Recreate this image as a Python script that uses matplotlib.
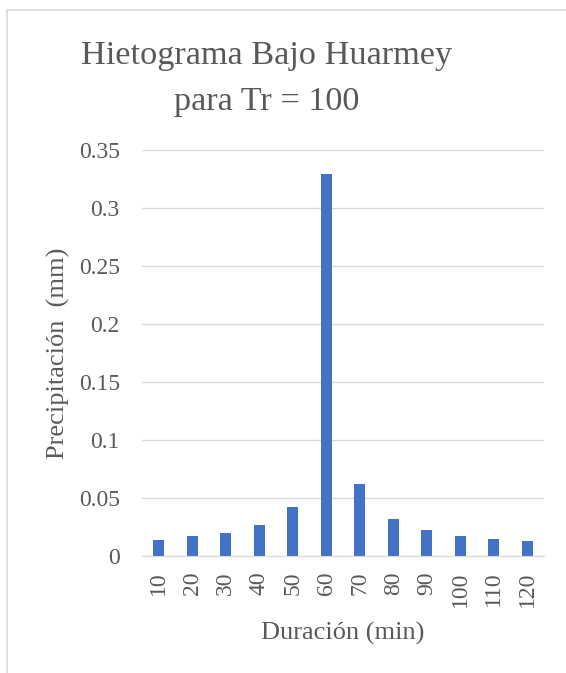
import matplotlib.pyplot as plt
from matplotlib.patches import Rectangle

# duration (min) and rainfall per block (mm)
duracion = [10, 20, 30, 40, 50, 60, 70, 80, 90, 100, 110, 120]
precipitacion = [0.0138, 0.0170, 0.0198, 0.0270, 0.0420, 0.329, 0.0618,
                 0.0319, 0.0224, 0.0175, 0.0146, 0.0127]
yticks = [0, 0.05, 0.1, 0.15, 0.2, 0.25, 0.3, 0.35]
ytick_labels = ['0', '0.05', '0.1', '0.15', '0.2', '0.25', '0.3', '0.35']

plt.rcParams['font.family'] = ['Liberation Serif', 'DejaVu Serif']
GRAY = '#595959'
GRID = '#d9d9d9'

fig = plt.figure(figsize=(5.66, 6.73), dpi=100)

# outer chart frame (runs off the right and bottom edges)
fig.patches.append(Rectangle((7 / 566, -0.1), 1.2, 1 - 10 / 673 + 0.1,
                             transform=fig.transFigure, fill=False,
                             edgecolor=GRID, linewidth=1.2))

ax = fig.add_axes([142 / 566, 1 - 556 / 673, 402 / 566, 406 / 673])
pos = list(range(len(duracion)))
ax.bar(pos, precipitacion, width=0.33, color='#4472C4', zorder=3)

ax.set_xlim(-0.5, len(duracion) - 0.5)
ax.set_ylim(0, 0.35)
ax.set_yticks(yticks)
ax.set_yticklabels(ytick_labels)
ax.set_xticks(pos)
ax.set_xticklabels([str(d) for d in duracion], rotation=90)
ax.tick_params(axis='both', length=0, labelsize=17, labelcolor=GRAY)
ax.tick_params(axis='y', pad=16)
ax.tick_params(axis='x', pad=11)

ax.grid(axis='y', color=GRID, linewidth=1, zorder=0)
for s in ['top', 'right', 'left']:
    ax.spines[s].set_visible(False)
ax.spines['bottom'].set_color(GRID)
ax.spines['bottom'].set_zorder(4)

fig.text(267 / 566, 1 - 64 / 673, 'Hietograma Bajo Huarmey',
         ha='center', va='baseline', fontsize=24.7, color=GRAY)
fig.text(267 / 566, 1 - 110 / 673, 'para Tr = 100',
         ha='center', va='baseline', fontsize=24.7, color=GRAY)
fig.text(343 / 566, 1 - 633 / 673, 'Duración (min)', ha='center', va='center',
         fontsize=19, color=GRAY)
fig.text(58 / 566, 1 - 353 / 673, 'Precipitación  (mm)', ha='center', va='center',
         rotation=90, fontsize=19, color=GRAY)

fig.savefig('out.png', dpi=100)
